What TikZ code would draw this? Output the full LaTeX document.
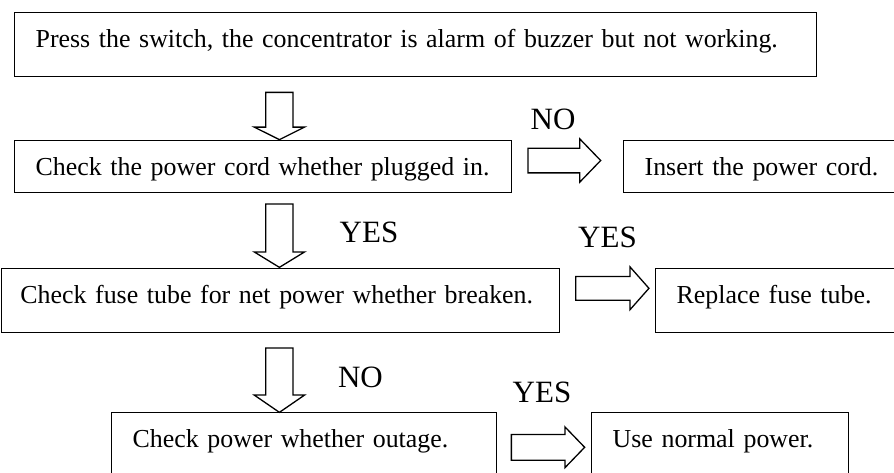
\documentclass[tikz,border=0pt]{standalone}
\usepackage{fontspec}
\setmainfont{Liberation Serif}
\usetikzlibrary{shapes.arrows}

\begin{document}
\begin{tikzpicture}[
x=1pt, y=-1pt,
box/.style={
rectangle,
draw=black,
line width=1.3pt,
anchor=north west,
align=left,
inner xsep=21pt,
inner ysep=10pt,
text height=25pt,
text depth=7pt,
text width=#1,
execute at begin node=\hbox\bgroup,
execute at end node=\egroup,
font=\fontsize{25.9}{30}\selectfont
},
tall/.style={
text depth=19pt
},
blockarrow/.style={
single arrow,
draw=black,
line width=1.3pt,
inner xsep=0pt,
anchor=tail
},
downarrow/.style={
blockarrow,
rotate=-90,
inner ysep=13pt,
single arrow head extend=11.5pt
},
rightarrow/.style={
blockarrow,
inner ysep=11.5pt,
single arrow head extend=9pt
},
answer/.style={
anchor=base,
inner sep=0pt,
font=\fontsize{31}{36}\selectfont
}
]

\useasboundingbox (0,0) rectangle (894,472);

\node (start) [box=760pt, tall] at (14,12)
{Press the switch, the concentrator is alarm of buzzer but not working.};

\node (plug) [box=455pt] at (14,140)
{Check the power cord whether plugged in.};

\node (insert) [box=248pt] at (623,140)
{Insert the power cord.};

\node (fuse) [box=520pt, tall, inner xsep=19pt] at (0.7,268)
{Check fuse tube for net power whether breaken.};

\node (replace) [box=208pt, tall] at (655,268)
{Replace fuse tube.};

\node (outage) [box=343pt, tall] at (111,412)
{Check power whether outage.};

\node (normal) [box=215pt, tall] at (591,412)
{Use normal power.};

\node (down1) [downarrow, minimum height=47.3pt, single arrow tip angle=127] at (279.4,91.7) {};
\node (down2) [downarrow, minimum height=63.4pt, single arrow tip angle=117] at (279.4,203.3) {};
\node (down3) [downarrow, minimum height=64.4pt, single arrow tip angle=111] at (279.4,347.3) {};

\node (right1) [rightarrow, minimum height=72.7pt, single arrow tip angle=92,
inner ysep=11.7pt, single arrow head extend=9.2pt] at (527.3,160.5) {};
\node (right2) [rightarrow, minimum height=73.3pt, single arrow tip angle=97,
inner ysep=11.2pt, single arrow head extend=9.5pt] at (575,288.3) {};
\node (right3) [rightarrow, minimum height=73.3pt, single arrow tip angle=92,
inner ysep=12.2pt, single arrow head extend=7.6pt] at (510.7,447.3) {};

\node (no1) [answer] at (553,129) {NO};
\node (yes1) [answer] at (369,242) {YES};
\node (yes2) [answer] at (607.5,247) {YES};
\node (no2) [answer] at (360.5,387) {NO};
\node (yes3) [answer] at (542,402) {YES};

\end{tikzpicture}
\end{document}
